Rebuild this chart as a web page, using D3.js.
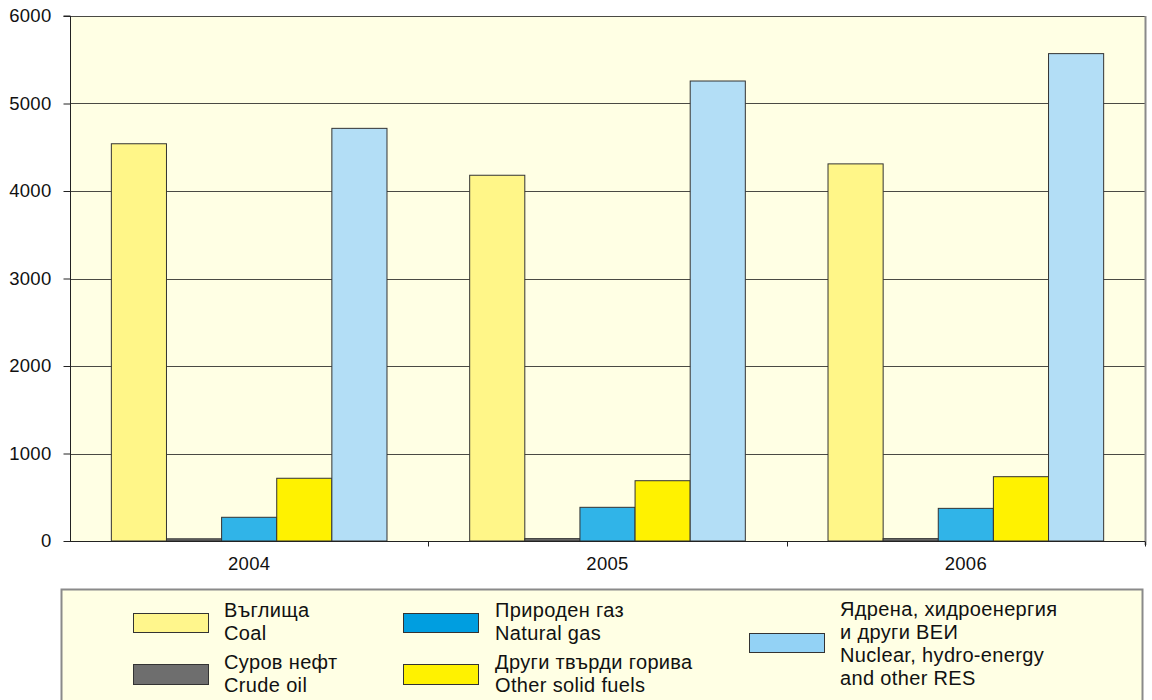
<!DOCTYPE html>
<html>
<head>
<meta charset="utf-8">
<script src="https://cdn.jsdelivr.net/npm/d3@7"></script>
<style>
  html, body { margin: 0; padding: 0; background: #ffffff; }
  svg text { font-family: "Liberation Sans", Arial, Helvetica, sans-serif; fill: #111; }
</style>
</head>
<body>
<svg id="chart" width="1152" height="700"></svg>
<script>
// ---- data ----
const categories = ["2004", "2005", "2006"];
const seriesKeys = ["coal", "crude", "gas", "otherSolid", "nuclear"];
const coal = [4540, 4180, 4310];
const crudeOil = [25, 27, 27];
const naturalGas = [271, 385, 373];
const otherSolidFuels = [717, 689, 735];
const nuclearHydroRes = [4716, 5257, 5570];
const yTicks = [0, 1000, 2000, 3000, 4000, 5000, 6000];
const legendLabels = {
  coal: ["Въглища", "Coal"],
  crude: ["Суров нефт", "Crude oil"],
  gas: ["Природен газ", "Natural gas"],
  otherSolid: ["Други твърди горива", "Other solid fuels"],
  nuclear: ["Ядрена, хидроенергия", "и други ВЕИ", "Nuclear, hydro-energy", "and other RES"]
};

const seriesValues = {
  coal: coal, crude: crudeOil, gas: naturalGas, otherSolid: otherSolidFuels, nuclear: nuclearHydroRes
};
const barColors = {
  coal: "#fff688", crude: "#6d6d6d", gas: "#30b4e8", otherSolid: "#fff200", nuclear: "#b3def6"
};
const legendColors = {
  coal: "#fff68c", crude: "#6e6e6e", gas: "#009ee0", otherSolid: "#fff200", nuclear: "#93d2f5"
};

const svg = d3.select("#chart");
const plot = { left: 70, right: 1145, top: 16, bottom: 541 };

const x0 = d3.scaleBand().domain(categories).range([plot.left, plot.right]).paddingInner(0).paddingOuter(0);
const x1 = d3.scaleBand().domain(seriesKeys).range([0, x0.bandwidth()]).paddingInner(0).paddingOuter(0.75);
const y = d3.scaleLinear().domain([0, 6000]).range([plot.bottom, plot.top]);

// plot background
svg.append("rect")
  .attr("x", plot.left).attr("y", plot.top)
  .attr("width", plot.right - plot.left).attr("height", plot.bottom - plot.top)
  .attr("fill", "#ffffe4");

// gridlines
svg.append("g").selectAll("line").data(yTicks.filter(d => d > 0)).join("line")
  .attr("x1", plot.left).attr("x2", plot.right)
  .attr("y1", d => Math.round(y(d)) + 0.5).attr("y2", d => Math.round(y(d)) + 0.5)
  .attr("stroke", "#4a4a44").attr("stroke-width", 1);

// right border (grey)
svg.append("line")
  .attr("x1", plot.right + 0.5).attr("x2", plot.right + 0.5)
  .attr("y1", plot.top).attr("y2", plot.bottom + 4)
  .attr("stroke", "#8a8a8a").attr("stroke-width", 2);

// bars
const groups = svg.append("g").selectAll("g").data(categories).join("g")
  .attr("transform", d => `translate(${x0(d)},0)`);
groups.selectAll("rect")
  .data((c, i) => seriesKeys.map(k => ({ key: k, value: seriesValues[k][i] })))
  .join("rect")
  .attr("x", d => x1(d.key))
  .attr("y", d => y(d.value))
  .attr("width", x1.bandwidth())
  .attr("height", d => y(0) - y(d.value))
  .attr("fill", d => barColors[d.key])
  .attr("stroke", "#333")
  .attr("stroke-width", 1);

// y axis
const yAxis = d3.axisLeft(y).tickValues(yTicks).tickSize(7).tickPadding(12).tickFormat(d3.format("d"));
const gy = svg.append("g").attr("transform", `translate(${plot.left + 0.5},0)`).call(yAxis);
gy.select(".domain").attr("stroke", "#222").attr("d", `M-7,${plot.top}H0V${plot.bottom}`);
gy.selectAll(".tick line").attr("stroke", "#222");
gy.selectAll(".tick text").attr("font-size", 18.5).attr("fill", "#111")
  .attr("letter-spacing", 0.3)
  .attr("font-family", '"Liberation Sans", Arial, sans-serif');

// x axis
const xAxis = d3.axisBottom(x0).tickSize(0).tickPadding(15);
const gx = svg.append("g").attr("transform", `translate(0,${plot.bottom + 0.5})`).call(xAxis);
gx.select(".domain").attr("stroke", "#222").attr("d", `M${plot.left},0H${plot.right}`);
gx.selectAll(".tick text").attr("font-size", 18.5).attr("fill", "#111")
  .attr("letter-spacing", 0.3)
  .attr("font-family", '"Liberation Sans", Arial, sans-serif');
// category separators
const bounds = categories.slice(1).map(c => x0(c)).concat([plot.right]);
gx.append("g").selectAll("line").data(bounds).join("line")
  .attr("x1", d => Math.round(d) + 0.5).attr("x2", d => Math.round(d) + 0.5)
  .attr("y1", 0).attr("y2", 5).attr("stroke", "#222");

// legend box
svg.append("rect")
  .attr("x", 61.5).attr("y", 589.5).attr("width", 1081).attr("height", 120)
  .attr("fill", "#ffffe4").attr("stroke", "#8a8a8a").attr("stroke-width", 2);

const legendItems = [
  { key: "coal", sx: 133, sy: 613, sh: 19, tx: 224, ty: 617 },
  { key: "crude", sx: 133, sy: 664, sh: 20, tx: 224, ty: 669 },
  { key: "gas", sx: 403, sy: 613, sh: 19, tx: 495, ty: 617 },
  { key: "otherSolid", sx: 403, sy: 664, sh: 20, tx: 495, ty: 669 },
  { key: "nuclear", sx: 749, sy: 633, sh: 19, tx: 840, ty: 616 }
];
const lg = svg.append("g").selectAll("g").data(legendItems).join("g");
lg.append("rect")
  .attr("x", d => d.sx + 0.5).attr("y", d => d.sy + 0.5)
  .attr("width", 75).attr("height", d => d.sh)
  .attr("fill", d => legendColors[d.key]).attr("stroke", "#333").attr("stroke-width", 1);
lg.append("text")
  .attr("x", d => d.tx).attr("y", d => d.ty)
  .attr("font-size", 20)
  .attr("letter-spacing", 0.35)
  .selectAll("tspan").data(d => legendLabels[d.key].map((t, i) => ({ t, i, x: d.tx })))
  .join("tspan")
  .attr("x", d => d.x).attr("dy", d => d.i === 0 ? 0 : 23)
  .text(d => d.t);
</script>
</body>
</html>
